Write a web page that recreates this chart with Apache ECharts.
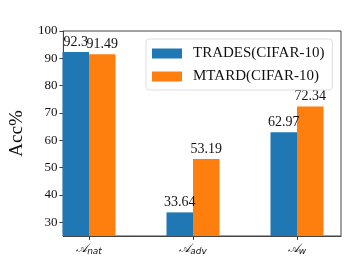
<!DOCTYPE html>
<html><head><meta charset="utf-8">
<script src="https://cdn.jsdelivr.net/npm/echarts@6/dist/echarts.min.js"></script>
<style>html,body{margin:0;padding:0;background:#fff}#c{width:349px;height:262px}</style>
</head><body><div id="c"></div>
<script>
var categories = ['nat', 'adv', 'w'];
var seriesNames = ['TRADES(CIFAR-10)', 'MTARD(CIFAR-10)'];
var tradesValues = [92.3, 33.64, 62.97];
var mtardValues = [91.49, 53.19, 72.34];
var yTicks = [30, 40, 50, 60, 70, 80, 90, 100];

var serif = 'Liberation Serif, DejaVu Serif, serif';
var chart = echarts.init(document.getElementById('c'), null, {renderer: 'canvas'});
var barLabel = {show: true, position: 'top', distance: 3, fontFamily: serif, fontSize: 14, color: '#111'};
chart.setOption({
  animation: false,
  grid: [
    {left: 52, right: 8, top: 31, bottom: 26, show: true, borderColor: '#444', borderWidth: 1},
    {left: 37, right: -7, top: 31, bottom: 26, show: false}
  ],
  legend: {
    orient: 'vertical', left: 146, top: 39, itemWidth: 30, itemHeight: 10, itemGap: 8,
    padding: [7, 8, 6, 6], borderColor: '#ddd', borderWidth: 1, borderRadius: 3,
    icon: 'rect', textStyle: {fontFamily: serif, fontSize: 15, color: '#111', padding: [0, 0, 0, 6]},
    data: seriesNames
  },
  xAxis: [
    {gridIndex: 0, type: 'category', data: categories,
     axisLine: {show: true, lineStyle: {color: '#444'}}, axisTick: {show: false}, axisLabel: {show: false}},
    {gridIndex: 1, type: 'category', data: categories,
     axisLine: {show: false},
     axisTick: {show: true, alignWithLabel: true, length: 4, lineStyle: {color: '#444'}},
     axisLabel: {
       margin: 6,
       formatter: function (v) { return '{a|𝒜}{s|' + v + '}'; },
       rich: {
         a: {fontFamily: 'DejaVu Sans', fontStyle: 'italic', fontSize: 12, color: '#111'},
         s: {fontFamily: 'DejaVu Sans', fontStyle: 'italic', fontSize: 9, color: '#111', padding: [5, 0, 0, 0]}
       }
     }}
  ],
  yAxis: [
    {gridIndex: 0, type: 'value', min: 25, max: 100,
     name: 'Acc%', nameLocation: 'middle', nameGap: 28, nameRotate: 90,
     nameTextStyle: {fontFamily: serif, fontSize: 19, color: '#111'},
     splitLine: {show: false},
     axisLine: {show: true, lineStyle: {color: '#444'}},
     axisTick: {show: true, customValues: yTicks, length: 4, lineStyle: {color: '#444'}},
     axisLabel: {customValues: yTicks, margin: 6, fontFamily: serif, fontSize: 13, color: '#111'}},
    {gridIndex: 1, type: 'value', min: 25, max: 100, show: false, splitLine: {show: false}}
  ],
  series: [
    {name: seriesNames[0], type: 'bar', xAxisIndex: 1, yAxisIndex: 1, data: tradesValues,
     barWidth: 26.5, barGap: '0%', itemStyle: {color: '#1f77b4'}, label: barLabel},
    {name: seriesNames[1], type: 'bar', xAxisIndex: 1, yAxisIndex: 1, data: mtardValues,
     barWidth: 26.5, barGap: '0%', itemStyle: {color: '#ff7f0e'}, label: barLabel}
  ]
});
</script></body></html>
